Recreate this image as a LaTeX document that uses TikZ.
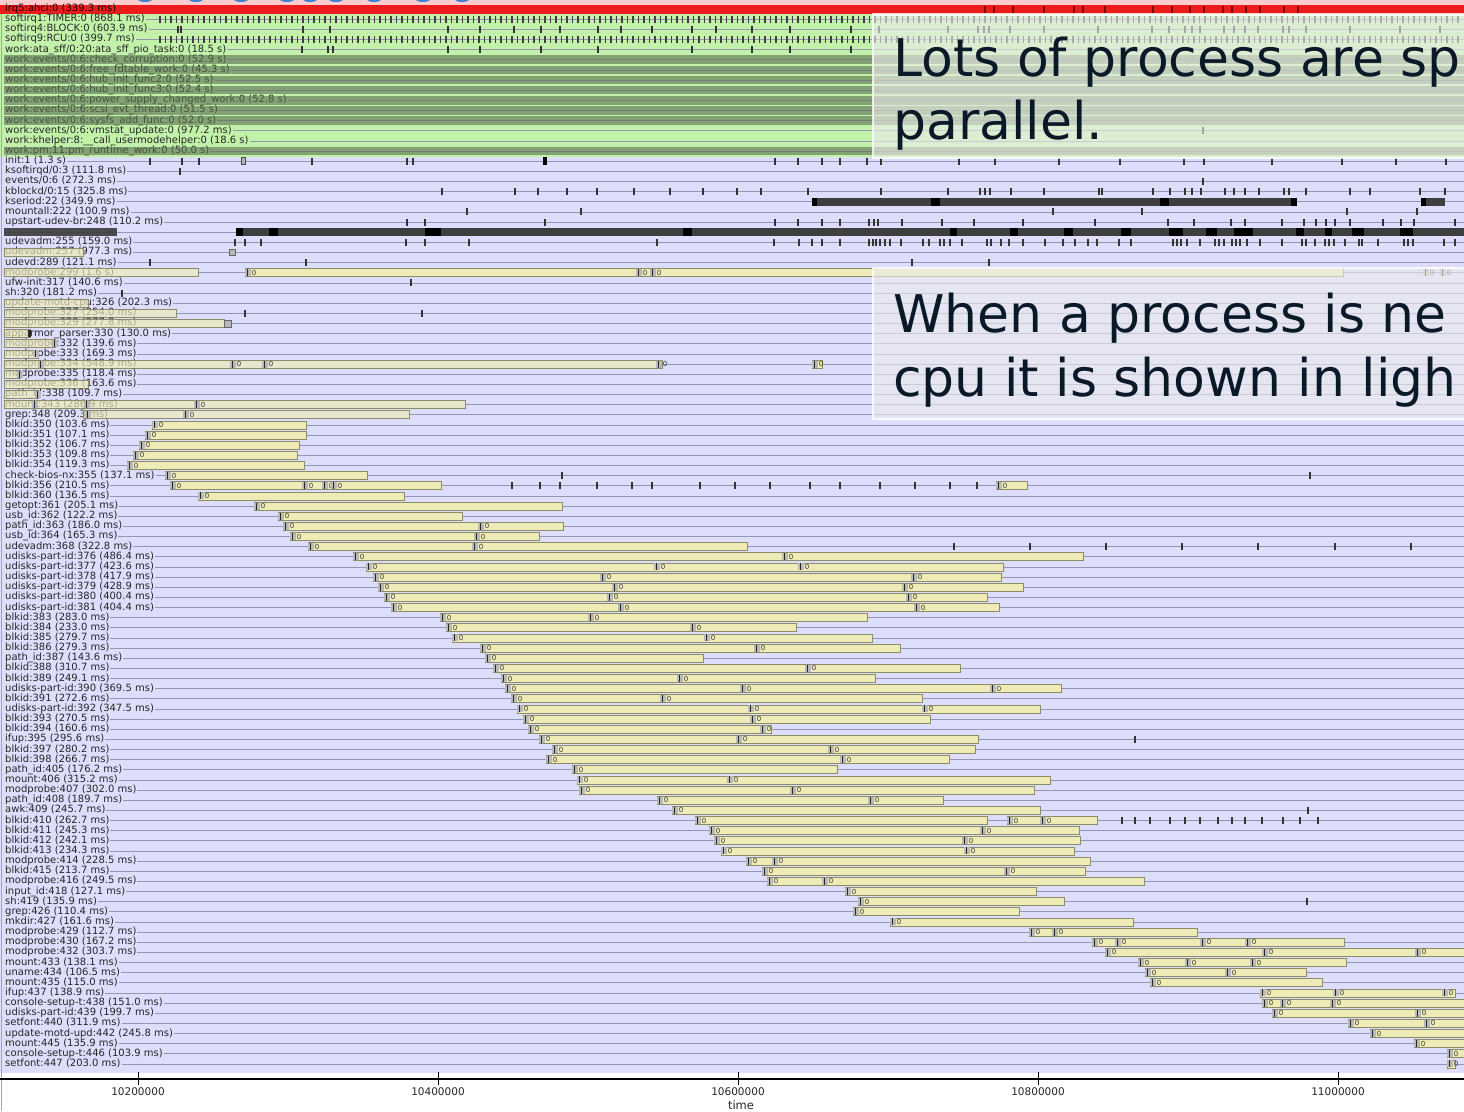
\documentclass[tikz,border=0pt]{standalone}
\usepackage{fontspec}
\setmainfont{DejaVu Sans}
\definecolor{lav}{RGB}{221,221,252}
\definecolor{grn}{RGB}{194,242,170}
\definecolor{khaki}{RGB}{238,235,182}
\definecolor{khakiedge}{RGB}{140,140,105}
\definecolor{rowline}{RGB}{150,150,178}
\definecolor{workbar}{RGB}{90,110,80}
\definecolor{redbar}{RGB}{236,28,28}
\definecolor{pinkband}{RGB}{255,205,205}
\definecolor{navy}{RGB}{10,25,40}
\definecolor{darkbar}{RGB}{62,62,62}
\definecolor{topblue}{RGB}{60,130,210}
\definecolor{overlay}{RGB}{236,236,236}
\tikzset{
  lab/.style={anchor=west, inner xsep=1pt, inner ysep=0pt, text height=7pt, text depth=2pt,
    font=\fontsize{10}{10}\selectfont, text=black!85},
  kbar/.style={fill=khaki, draw=khakiedge, line width=0.7pt},
  zero/.style={inner sep=0pt, font=\fontsize{7}{7}\selectfont, text=black!80},
  rline/.style={draw=rowline, line width=0.7pt},
  obox/.style={fill=overlay, fill opacity=0.62, draw=white, draw opacity=0.8, line width=2.5pt},
  bigtxt/.style={anchor=base west, inner sep=0pt, text=navy, font=\fontsize{52}{63}\selectfont},
  axl/.style={inner sep=0pt, font=\fontsize{10.5}{11}\selectfont, text=black!85}
}
\newcommand\RowY[1]{\pgfmathsetmacro\yy{9+#1*10.144}}
\newcommand\Lab[2]{\RowY{#1}\node[lab,fill=lav] (L#1) at (4,\yy) {#2};}
\newcommand\LabG[2]{\RowY{#1}\node[lab,fill=grn] (L#1) at (4,\yy) {#2};}
\newcommand\LabK[4]{\RowY{#1}\fill[lav] (#3,\yy-4) rectangle (#4,\yy+4);
  \node[lab,fill=lav] (L#1) at (4,\yy) {#2};
  \draw[kbar,fill opacity=0.68] (#3,\yy-4) rectangle (#4,\yy+4);}
\newcommand\MarkN[2]{\RowY{#1}\fill[gray!55] (#2,\yy-3.5) rectangle ++(6,7);
  \fill[black!85] (#2+2,\yy-3.5) rectangle ++(1.3,7);}
\newcommand\Mark[2]{\MarkN{#1}{#2}\node[zero] (M#1-#2) at (#2+9,\yy) {0};}
\newcommand\KBar[3]{\RowY{#1}\draw[kbar] (#2,\yy-4) rectangle (#3,\yy+4);\Mark{#1}{#2}}
\newcommand\Tick[2]{\RowY{#1}\fill[black!80] (#2-0.8,\yy-3.5) rectangle (#2+0.8,\yy+3.5);}
\newcommand\Ticks[2]{\foreach \tx in {#2}{\Tick{#1}{\tx}}}
\newcommand\DSeg[3]{\RowY{#1}\fill[black] (#2,\yy-4) rectangle (#3,\yy+4);}
\begin{document}
\begin{tikzpicture}[x=1pt,y=-1pt]
\useasboundingbox (0,0) rectangle (1464,1111);
\clip (0,0) rectangle (1464,1111);
\fill[white] (0,0) rectangle (1464,1111);
% ---------- backgrounds ----------
\fill[pinkband] (0,0) rectangle (1464,4.5);
\foreach \bx in {145,196,241,287,310,336,374,423,462}
  {\fill[topblue] (\bx,-0.5) ellipse [x radius=7pt, y radius=2.5pt];}
\fill[redbar] (0,4.5) rectangle (1464,13.5);
\fill[grn] (0,13.5) rectangle (1464,157);
\fill[lav] (0,157) rectangle (1464,1073);
% ---------- row lines ----------
\foreach \r in {1,...,104}{\RowY{\r}\draw[rline] (4,\yy) -- (1464,\yy);}
% ---------- top rows ----------
\node[lab,text=black!90!red] (L0) at (4,9) {irq5:ahci:0 (339.3 ms)};
\foreach \tx in {985,994,1013,1044,1074,1083,1105,1153,1172,1190,1204,1223,1232,1246,1260,1284,1298}
  {\fill[red!50!black] (\tx-0.8,5.5) rectangle (\tx+0.8,12.5);}
\LabG{1}{softirq1:TIMER:0 (868.1 ms)}
\LabG{2}{softirq4:BLOCK:0 (603.9 ms)}
\LabG{3}{softirq9:RCU:0 (399.7 ms)}
\LabG{4}{work:ata\_sff/0:20:ata\_sff\_pio\_task:0 (18.5 s)}
\LabG{5}{work:events/0:6:check\_corruption:0 (52.9 s)}
\LabG{6}{work:events/0:6:free\_fdtable\_work:0 (45.3 s)}
\LabG{7}{work:events/0:6:hub\_init\_func2:0 (52.5 s)}
\LabG{8}{work:events/0:6:hub\_init\_func3:0 (52.4 s)}
\LabG{9}{work:events/0:6:power\_supply\_changed\_work:0 (52.8 s)}
\LabG{10}{work:events/0:6:scsi\_evt\_thread:0 (51.5 s)}
\LabG{11}{work:events/0:6:sysfs\_add\_func:0 (52.0 s)}
\LabG{12}{work:events/0:6:vmstat\_update:0 (977.2 ms)}
\LabG{13}{work:khelper:8:\_\_call\_usermodehelper:0 (18.6 s)}
\LabG{14}{work:pm:11:pm\_runtime\_work:0 (50.0 s)}
\foreach \r in {1,3}{\RowY{\r}
  \foreach \tx in {160,165.5,...,1460}{\fill[black!75] (\tx-0.6,\yy-3.5) rectangle (\tx+0.6,\yy+3.5);}}
\Ticks{2}{178,181,303,330,448,480,514,541,560,598,621,652,692,716,752,790,851,879,948,978,984,989,1010,1044,1098,1152,1169,1185,1192,1200,1224,1234,1245,1258,1283,1289,1306,1350,1400,1440}
\Ticks{4}{302,328,333,448,480,541,598,692,752,790,851}
\Tick{12}{1203}
\foreach \r in {5,...,11,14}{\RowY{\r}\fill[workbar,opacity=0.6] (4,\yy-4.3) rectangle (1464,\yy+4.3);}
% ---------- lavender rows ----------
\Lab{15}{init:1 (1.3 s)}
\Lab{16}{ksoftirqd/0:3 (111.8 ms)}
\Lab{17}{events/0:6 (272.3 ms)}
\Lab{18}{kblockd/0:15 (325.8 ms)}
\Lab{19}{kseriod:22 (349.9 ms)}
\Lab{20}{mountall:222 (100.9 ms)}
\Lab{21}{upstart-udev-br:248 (110.2 ms)}
\Lab{23}{udevadm:255 (159.0 ms)}
\Lab{25}{udevd:289 (121.1 ms)}
\Lab{27}{ufw-init:317 (140.6 ms)}
\Lab{28}{sh:320 (181.2 ms)}
\LabK{24}{udevadm:257 (977.3 ms)}{4}{83}
\LabK{26}{modprobe:299 (1.6 s)}{4}{198}
\LabK{29}{update-motd-cpu:326 (202.3 ms)}{4}{88}
\LabK{30}{modprobe:327 (254.0 ms)}{4}{176}
\LabK{31}{modprobe:329 (277.8 ms)}{4}{224}
\LabK{32}{apparmor\_parser:330 (130.0 ms)}{4}{30}
\LabK{33}{modprobe:332 (139.6 ms)}{4}{55}
\LabK{34}{modprobe:333 (169.3 ms)}{4}{38}
\LabK{35}{modprobe:334 (548.9 ms)}{4}{662}
\LabK{36}{modprobe:335 (118.4 ms)}{4}{20}
\LabK{37}{modprobe:336 (163.6 ms)}{4}{88}
\LabK{38}{path\_id:338 (109.7 ms)}{4}{38}
\LabK{39}{mount:343 (286.9 ms)}{4}{465}
\LabK{40}{grep:348 (209.3 ms)}{83}{409}
\Lab{41}{blkid:350 (103.6 ms)}
\Lab{42}{blkid:351 (107.1 ms)}
\Lab{43}{blkid:352 (106.7 ms)}
\Lab{44}{blkid:353 (109.8 ms)}
\Lab{45}{blkid:354 (119.3 ms)}
\Lab{46}{check-bios-nx:355 (137.1 ms)}
\Lab{47}{blkid:356 (210.5 ms)}
\Lab{48}{blkid:360 (136.5 ms)}
\Lab{49}{getopt:361 (205.1 ms)}
\Lab{50}{usb\_id:362 (122.2 ms)}
\Lab{51}{path\_id:363 (186.0 ms)}
\Lab{52}{usb\_id:364 (165.3 ms)}
\Lab{53}{udevadm:368 (322.8 ms)}
\Lab{54}{udisks-part-id:376 (486.4 ms)}
\Lab{55}{udisks-part-id:377 (423.6 ms)}
\Lab{56}{udisks-part-id:378 (417.9 ms)}
\Lab{57}{udisks-part-id:379 (428.9 ms)}
\Lab{58}{udisks-part-id:380 (400.4 ms)}
\Lab{59}{udisks-part-id:381 (404.4 ms)}
\Lab{60}{blkid:383 (283.0 ms)}
\Lab{61}{blkid:384 (233.0 ms)}
\Lab{62}{blkid:385 (279.7 ms)}
\Lab{63}{blkid:386 (279.3 ms)}
\Lab{64}{path\_id:387 (143.6 ms)}
\Lab{65}{blkid:388 (310.7 ms)}
\Lab{66}{blkid:389 (249.1 ms)}
\Lab{67}{udisks-part-id:390 (369.5 ms)}
\Lab{68}{blkid:391 (272.6 ms)}
\Lab{69}{udisks-part-id:392 (347.5 ms)}
\Lab{70}{blkid:393 (270.5 ms)}
\Lab{71}{blkid:394 (160.6 ms)}
\Lab{72}{ifup:395 (295.6 ms)}
\Lab{73}{blkid:397 (280.2 ms)}
\Lab{74}{blkid:398 (266.7 ms)}
\Lab{75}{path\_id:405 (176.2 ms)}
\Lab{76}{mount:406 (315.2 ms)}
\Lab{77}{modprobe:407 (302.0 ms)}
\Lab{78}{path\_id:408 (189.7 ms)}
\Lab{79}{awk:409 (245.7 ms)}
\Lab{80}{blkid:410 (262.7 ms)}
\Lab{81}{blkid:411 (245.3 ms)}
\Lab{82}{blkid:412 (242.1 ms)}
\Lab{83}{blkid:413 (234.3 ms)}
\Lab{84}{modprobe:414 (228.5 ms)}
\Lab{85}{blkid:415 (213.7 ms)}
\Lab{86}{modprobe:416 (249.5 ms)}
\Lab{87}{input\_id:418 (127.1 ms)}
\Lab{88}{sh:419 (135.9 ms)}
\Lab{89}{grep:426 (110.4 ms)}
\Lab{90}{mkdir:427 (161.6 ms)}
\Lab{91}{modprobe:429 (112.7 ms)}
\Lab{92}{modprobe:430 (167.2 ms)}
\Lab{93}{modprobe:432 (303.7 ms)}
\Lab{94}{mount:433 (138.1 ms)}
\Lab{95}{uname:434 (106.5 ms)}
\Lab{96}{mount:435 (115.0 ms)}
\Lab{97}{ifup:437 (138.9 ms)}
\Lab{98}{console-setup-t:438 (151.0 ms)}
\Lab{99}{udisks-part-id:439 (199.7 ms)}
\Lab{100}{setfont:440 (311.9 ms)}
\Lab{101}{update-motd-upd:442 (245.8 ms)}
\Lab{102}{mount:445 (135.9 ms)}
\Lab{103}{console-setup-t:446 (103.9 ms)}
\Lab{104}{setfont:447 (203.0 ms)}
% ---------- ticks, dark bars ----------
\Ticks{15}{150,182,199,312,407,413,775,798,822,840,867,881,959,995,1059,1120,1184,1204,1272,1342,1396,1446}
\RowY{15}\fill[gray!60,draw=black!70] (241,\yy-3.5) rectangle (245,\yy+3.5);
\fill[black] (543,\yy-4) rectangle (547,\yy+4);
\Tick{16}{180}
\Tick{17}{1203}
\Ticks{18}{442,515,538,567,597,634,670,703,737,761,808,881,948,980,985,990,1011,1044,1099,1102,1153,1170,1185,1192,1201,1225,1234,1245,1259,1284,1289,1306,1350,1370,1420,1445}
\RowY{19}\fill[darkbar] (812,\yy-4) rectangle (1297,\yy+4);
\fill[darkbar] (1421,\yy-4) rectangle (1445,\yy+4);
\DSeg{19}{812}{817}\DSeg{19}{931}{940}\DSeg{19}{1160}{1169}\DSeg{19}{1291}{1297}\DSeg{19}{1421}{1426}
\Ticks{20}{467,581,1053,1142,1347,1417}
\Ticks{21}{407,425,545,775,798,822,840,869,874,878,902,942,974,1023,1095,1168,1194,1231,1245,1282,1304,1316,1326,1335,1350,1383,1401,1414,1455}
\RowY{22}\fill[darkbar,opacity=0.92] (4,\yy-4) rectangle (117,\yy+4);
\fill[darkbar] (236,\yy-4) rectangle (1464,\yy+4);
\foreach \sa/\sb in {236/243,269/278,425/441,683/692,950/957,1010/1018,1064/1073,1121/1131,1169/1183,1206/1217,1234/1253,1296/1304,1325/1332,1352/1364,1400/1413}
  {\DSeg{22}{\sa}{\sb}}
\Ticks{23}{235,245,261,406,425,469,657,774,799,812,822,840,869,873,876,880,885,890,901,923,929,940,944,950,962,987,991,1001,1009,1023,1045,1063,1075,1088,1097,1119,1131,1173,1177,1181,1187,1200,1215,1219,1224,1232,1236,1240,1247,1260,1282,1302,1306,1315,1325,1329,1334,1345,1359,1362,1378,1404,1408,1413,1444,1455}
\RowY{24}\fill[gray!55,draw=black!60] (229,\yy-3) rectangle (235,\yy+3);
\Ticks{25}{150,306,912,989}
\KBar{26}{245}{1343}\Mark{26}{636}\Mark{26}{650}\Mark{26}{1423}\Mark{26}{1440}
\Tick{27}{411}
\Tick{28}{122}
\Ticks{30}{245,422}
\RowY{31}\fill[gray!55,draw=black!60] (224,\yy-3.5) rectangle (231,\yy+3.5);
\RowY{32}\fill[black!85] (28,\yy-3.5) rectangle (31,\yy+3.5);
\MarkN{33}{52}\MarkN{34}{33}\MarkN{35}{38}\Mark{35}{230}\Mark{35}{262}\Mark{35}{656}
\KBar{35}{812}{822}
\MarkN{36}{17}\MarkN{38}{35}
\MarkN{39}{32}\MarkN{39}{84}\Mark{39}{194}
\MarkN{40}{85}\Mark{40}{183}
% ---------- bars ----------
\KBar{41}{152}{306}
\KBar{42}{145}{306}
\KBar{43}{139}{299}
\KBar{44}{133}{297}
\KBar{45}{127}{304}
\KBar{46}{165}{367}\Ticks{46}{562,1310}
\KBar{47}{170}{441}\Mark{47}{302}\Mark{47}{322}\Mark{47}{331}
\Ticks{47}{512,540,560,597,632,652,700,735,770,810,840,880,915,950,977}
\KBar{47}{996}{1027}
\KBar{48}{198}{404}
\KBar{49}{254}{562}
\KBar{50}{278}{462}
\KBar{51}{283}{563}\Mark{51}{478}
\KBar{52}{290}{539}\Mark{52}{474}
\KBar{53}{308}{747}\Mark{53}{472}\Ticks{53}{954,1030,1106,1182,1258,1335,1411}
\KBar{54}{353}{1083}\Mark{54}{782}
\KBar{55}{366}{1003}\Mark{55}{654}\Mark{55}{798}
\KBar{56}{373}{1001}\Mark{56}{600}\Mark{56}{911}
\KBar{57}{378}{1023}\Mark{57}{612}\Mark{57}{902}
\KBar{58}{384}{987}\Mark{58}{607}\Mark{58}{906}
\KBar{59}{391}{999}\Mark{59}{618}\Mark{59}{914}
\KBar{60}{440}{867}\Mark{60}{588}
\KBar{61}{446}{796}\Mark{61}{690}
\KBar{62}{452}{872}\Mark{62}{704}
\KBar{63}{480}{900}\Mark{63}{754}
\KBar{64}{485}{703}
\KBar{65}{493}{960}\Mark{65}{805}
\KBar{66}{501}{875}\Mark{66}{677}
\KBar{67}{505}{1061}\Mark{67}{740}\Mark{67}{990}
\KBar{68}{511}{922}\Mark{68}{660}
\KBar{69}{517}{1040}\Mark{69}{748}\Mark{69}{922}
\KBar{70}{523}{930}\Mark{70}{750}
\KBar{71}{528}{771}\Mark{71}{760}
\KBar{72}{539}{978}\Mark{72}{736}\Tick{72}{1135}
\KBar{73}{552}{975}\Mark{73}{828}
\KBar{74}{546}{949}\Mark{74}{840}
\KBar{75}{572}{837}
\KBar{76}{577}{1050}\Mark{76}{727}
\KBar{77}{579}{1034}\Mark{77}{790}
\KBar{78}{657}{943}\Mark{78}{868}
\KBar{79}{672}{1040}\Tick{79}{1308}
\KBar{80}{695}{987}\KBar{80}{1007}{1097}\Mark{80}{1040}
\Ticks{80}{1122,1135,1150,1170,1185,1200,1218,1232,1245,1262,1283,1300,1318}
\KBar{81}{709}{1079}\Mark{81}{980}
\KBar{82}{714}{1080}\Mark{82}{962}
\KBar{83}{721}{1074}\Mark{83}{964}
\KBar{84}{746}{1090}\Mark{84}{772}
\KBar{85}{762}{1085}\Mark{85}{1004}
\KBar{86}{767}{1144}\Mark{86}{822}
\KBar{87}{845}{1036}
\KBar{88}{858}{1064}\Tick{88}{1307}
\KBar{89}{853}{1019}
\KBar{90}{890}{1133}
\KBar{91}{1029}{1197}\Mark{91}{1052}
\KBar{92}{1092}{1344}\Mark{92}{1115}\Mark{92}{1200}\Mark{92}{1245}
\KBar{93}{1105}{1470}\Mark{93}{1262}\Mark{93}{1415}
\KBar{94}{1138}{1346}\Mark{94}{1185}\Mark{94}{1250}
\KBar{95}{1145}{1306}\Mark{95}{1225}
\KBar{96}{1150}{1322}
\KBar{97}{1260}{1455}\Mark{97}{1333}\Mark{97}{1442}
\KBar{98}{1262}{1470}\Mark{98}{1280}\Mark{98}{1330}
\KBar{99}{1272}{1470}\Mark{99}{1415}
\KBar{100}{1348}{1470}\Mark{100}{1424}
\KBar{101}{1370}{1470}
\KBar{102}{1414}{1470}
\KBar{103}{1447}{1470}
\KBar{104}{1447}{1455}
% ---------- left border ----------
\draw[gray!70,line width=1.2pt] (1.5,13.5) -- (1.5,1111);
% ---------- overlays ----------
\draw[obox] (873,14.5) rectangle (1470,158);
\draw[obox] (873,268) rectangle (1470,419);
\node[bigtxt] (T1) at (893,76) {Lots of process are sp};
\node[bigtxt] (T2) at (893,139) {parallel.};
\node[bigtxt] (T3) at (893,332) {When a process is ne};
\node[bigtxt] (T4) at (893,396) {cpu it is shown in ligh};
% ---------- axis ----------
\draw[black,line width=2pt] (0,1078.5) coordinate (ax0) -- (1464,1078.5) coordinate (ax1);
\foreach \ax/\al in {138/10200000,438/10400000,738/10600000,1038/10800000,1338/11000000}
  {\draw[black,line width=1pt] (\ax,1072) -- (\ax,1085);
   \node[axl] (A\al) at (\ax,1092) {\al};}
\node[axl,font=\fontsize{11.5}{12}\selectfont] (tlab) at (741,1105) {time};
\end{tikzpicture}
\end{document}
